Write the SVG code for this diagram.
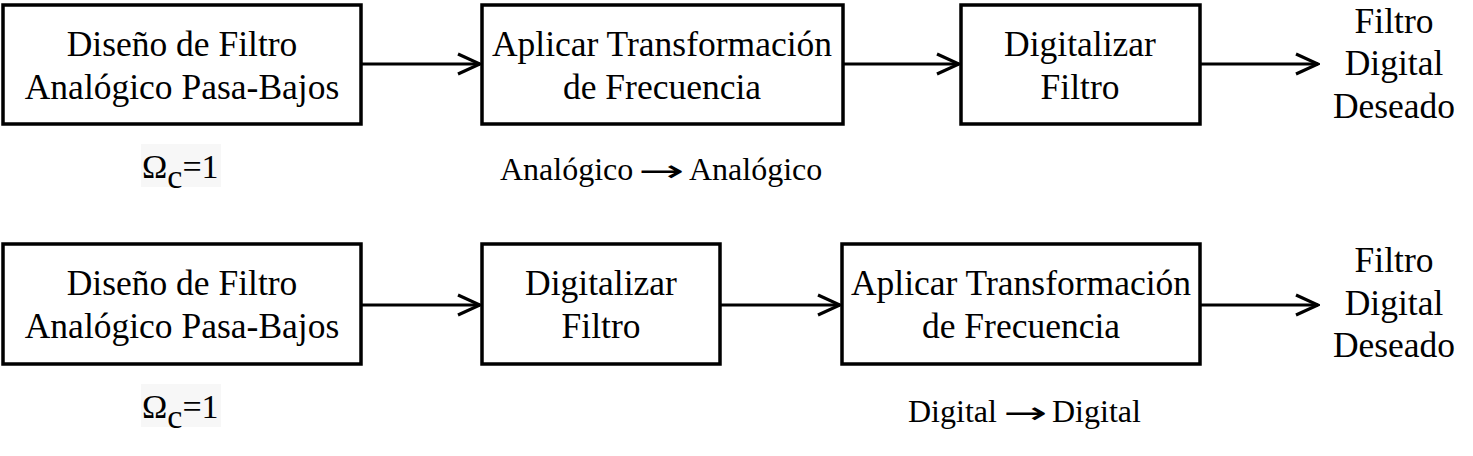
<svg xmlns="http://www.w3.org/2000/svg" width="1473" height="456" viewBox="0 0 1473 456">
<style>
.box{fill:#fff;stroke:#000;stroke-width:3.5}
.t{font-family:"Liberation Serif","Times New Roman",serif;font-size:35.5px;fill:#000;text-anchor:middle}
.s{font-family:"Liberation Serif","Times New Roman",serif;font-size:32px;fill:#000}
.ar{font-family:"DejaVu Sans",sans-serif;font-size:30px;fill:#000}
.w{font-family:"Liberation Serif","Times New Roman",serif;font-size:34px;fill:#000}
.c{fill:none;stroke:#000;stroke-width:3}
.bg{fill:#f7f7f7}
</style>
<defs>
<marker id="ah" markerUnits="userSpaceOnUse" markerWidth="26" markerHeight="24" viewBox="0 0 26 24" refX="24" refY="12" orient="auto">
<polyline points="2,2 24,12 2,22" fill="none" stroke="#000" stroke-width="3.2"/>
</marker>
</defs>
<rect width="1473" height="456" fill="#fff"/>
<g id="connectors">
<line class="c" x1="361" y1="64" x2="480" y2="64" marker-end="url(#ah)"/>
<line class="c" x1="843" y1="64" x2="959" y2="64" marker-end="url(#ah)"/>
<line class="c" x1="1200" y1="64" x2="1318" y2="64" marker-end="url(#ah)"/>
<line class="c" x1="361" y1="305" x2="480" y2="305" marker-end="url(#ah)"/>
<line class="c" x1="720" y1="305" x2="840" y2="305" marker-end="url(#ah)"/>
<line class="c" x1="1200" y1="305" x2="1318" y2="305" marker-end="url(#ah)"/>
</g>
<g id="top-design">
<rect class="box" x="3" y="5" width="358" height="119"/>
<text class="t" x="182" y="56">Diseño de Filtro</text>
<text class="t" x="182" y="99">Analógico Pasa-Bajos</text>
</g>
<g id="top-transform">
<rect class="box" x="482" y="5" width="361" height="119"/>
<text class="t" x="662" y="56">Aplicar Transformación</text>
<text class="t" x="662" y="99">de Frecuencia</text>
</g>
<g id="top-digitize">
<rect class="box" x="961" y="5" width="239" height="119"/>
<text class="t" x="1080" y="56">Digitalizar</text>
<text class="t" x="1080" y="99">Filtro</text>
</g>
<g id="top-output">
<text class="t" x="1394" y="33">Filtro</text>
<text class="t" x="1394" y="75">Digital</text>
<text class="t" x="1394" y="118">Deseado</text>
</g>
<g id="top-omega">
<rect class="bg" x="141" y="144" width="80" height="43"/>
<text class="w" x="142" y="178">Ω<tspan dy="10">c</tspan><tspan dy="-10">=1</tspan></text>
</g>
<g id="top-note">
<text class="s" x="500" y="180">Analógico</text>
<text class="ar" x="638" y="181" textLength="46" lengthAdjust="spacingAndGlyphs">→</text>
<text class="s" x="689" y="180">Analógico</text>
</g>
<g id="bottom-design">
<rect class="box" x="3" y="244" width="358" height="120"/>
<text class="t" x="182" y="295">Diseño de Filtro</text>
<text class="t" x="182" y="338">Analógico Pasa-Bajos</text>
</g>
<g id="bottom-digitize">
<rect class="box" x="482" y="244" width="238" height="120"/>
<text class="t" x="601" y="295">Digitalizar</text>
<text class="t" x="601" y="338">Filtro</text>
</g>
<g id="bottom-transform">
<rect class="box" x="842" y="244" width="358" height="120"/>
<text class="t" x="1021" y="295">Aplicar Transformación</text>
<text class="t" x="1021" y="338">de Frecuencia</text>
</g>
<g id="bottom-output">
<text class="t" x="1394" y="272">Filtro</text>
<text class="t" x="1394" y="315">Digital</text>
<text class="t" x="1394" y="357">Deseado</text>
</g>
<g id="bottom-omega">
<rect class="bg" x="141" y="384" width="80" height="43"/>
<text class="w" x="142" y="418">Ω<tspan dy="10">c</tspan><tspan dy="-10">=1</tspan></text>
</g>
<g id="bottom-note">
<text class="s" x="908" y="422">Digital</text>
<text class="ar" x="1003" y="423" textLength="44" lengthAdjust="spacingAndGlyphs">→</text>
<text class="s" x="1052" y="422">Digital</text>
</g>
</svg>
